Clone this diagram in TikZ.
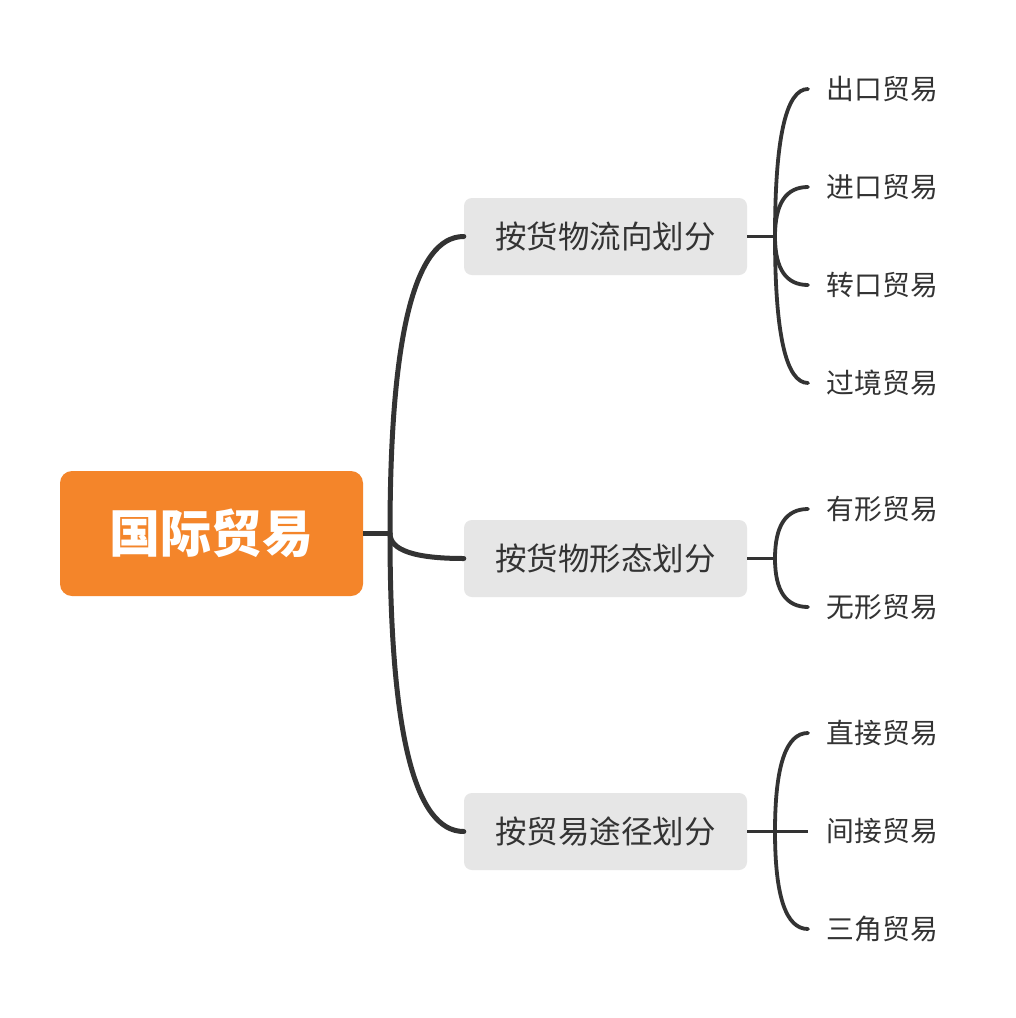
\documentclass[tikz,border=0pt]{standalone}
\usepackage{fontspec}
\usetikzlibrary{calc}
\newfontfamily\cjk{Noto Sans CJK SC}
\definecolor{rootor}{HTML}{F4852A}
\definecolor{subgray}{HTML}{E6E6E6}
\definecolor{inkc}{HTML}{333333}
\tikzset{
  rootbox/.style={fill=rootor, rounded corners=12pt, minimum width=303pt, minimum height=125pt, inner sep=0pt, text=white, font=\cjk\bfseries\fontsize{51}{56}\selectfont},
  subbox/.style={fill=subgray, rounded corners=8pt, minimum width=283pt, minimum height=77pt, inner sep=0pt, text=inkc, font=\cjk\fontsize{31.5}{36}\selectfont},
  leaf/.style={anchor=west, inner xsep=18.5pt, inner ysep=0pt, text=inkc, font=\cjk\fontsize{27.8}{32}\selectfont},
  trunk/.style={draw=inkc, line width=5pt, line cap=round},
  twig/.style={draw=inkc, line width=3.8pt, line cap=round},
}
% quadratic bezier from #2 with corner control #3 to #4, drawn with style #1
\newcommand{\qbranch}[4]{\draw[#1] (#2) .. controls ($(#2)!2/3!(#3)$) and ($(#4)!2/3!(#3)$) .. (#4);}
\begin{document}
\begin{tikzpicture}[x=1pt,y=-1pt]
\useasboundingbox[fill=white] (0,0) rectangle (1016,1018);
\node[rootbox] (root) at (211.5,533.5) {国际贸易};
\node[subbox] (s1) at (605.5,236.5) {按货物流向划分};
\node[subbox] (s2) at (605.5,558.5) {按货物形态划分};
\node[subbox] (s3) at (605.5,831.5) {按贸易途径划分};
\coordinate (j0) at (390,533.5);
\draw[trunk, line cap=butt] (root.east) -- (j0);
\qbranch{trunk}{j0}{390,236.5}{s1.west}
\qbranch{trunk}{j0}{390,831.5}{s3.west}
\qbranch{trunk}{j0}{390,558.5}{s2.west}
% leaves group 1
\node[leaf] (l11) at (808,89) {出口贸易};
\node[leaf] (l12) at (808,187) {进口贸易};
\node[leaf] (l13) at (808,285) {转口贸易};
\node[leaf] (l14) at (808,383) {过境贸易};
\coordinate (j1) at (775,236.5);
\draw[twig, line cap=butt] (s1.east) -- (j1);
\qbranch{twig}{j1}{775,89}{l11.west}
\qbranch{twig}{j1}{775,187}{l12.west}
\qbranch{twig}{j1}{775,285}{l13.west}
\qbranch{twig}{j1}{775,383}{l14.west}
% leaves group 2
\node[leaf] (l21) at (808,509) {有形贸易};
\node[leaf] (l22) at (808,607) {无形贸易};
\coordinate (j2) at (775,558.5);
\draw[twig, line cap=butt] (s2.east) -- (j2);
\qbranch{twig}{j2}{775,509}{l21.west}
\qbranch{twig}{j2}{775,607}{l22.west}
% leaves group 3
\node[leaf] (l31) at (808,733) {直接贸易};
\node[leaf] (l32) at (808,831.5) {间接贸易};
\node[leaf] (l33) at (808,929) {三角贸易};
\coordinate (j3) at (775,831.5);
\draw[twig, line cap=butt] (s3.east) -- (l32.west);
\qbranch{twig}{j3}{775,733}{l31.west}
\qbranch{twig}{j3}{775,929}{l33.west}
\end{tikzpicture}
\end{document}
